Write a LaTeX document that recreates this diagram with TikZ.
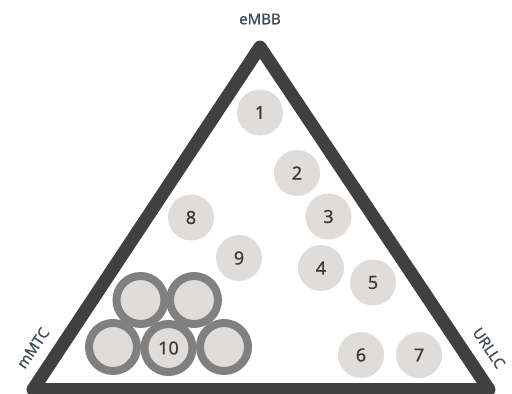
\documentclass[tikz,border=0pt]{standalone}
\usepackage{fontspec}
\setmainfont{Noto Sans}[FakeBold=0.6]

\definecolor{edgegray}{HTML}{404040}
\definecolor{ballfill}{HTML}{DFDCDA}
\definecolor{ringgray}{HTML}{808080}
\definecolor{numgray}{HTML}{3A3A3A}
\definecolor{labelblue}{HTML}{3C4D58}

\tikzset{
    ball/.style={circle, fill=ballfill, minimum size=46pt, inner sep=0pt,
        text=numgray, font=\fontsize{18}{20}\selectfont},
    ringball/.style={ball, draw=ringgray, line width=8pt, minimum size=48pt},
    corner/.style={text=labelblue, inner sep=1pt, font=\fontsize{15}{18}\selectfont}
}

\begin{document}
\begin{tikzpicture}[x=1pt, y=-1pt]
    \useasboundingbox (0, 0) rectangle (512, 394);

    % Triangle
    \coordinate (top) at (260, 47);
    \coordinate (left) at (33, 389.5);
    \coordinate (right) at (489, 389.5);
    \draw[edgegray, line width=13pt, line join=round] (top) -- (left) -- (right) -- cycle;

    % Corner labels
    \node[corner] (embb) at (260, 19) {eMBB};
    \node[corner, rotate=56] (mmtc) at (33, 348) {mMTC};
    \node[corner, rotate=-56] (urllc) at (489, 348) {URLLC};

    % Single services 1 - 9
    \foreach \n/\x/\y in {1/260/112.5, 2/297/173, 3/328.5/216.5, 4/321/268,
        5/373/282.5, 6/361/355, 7/419/355, 8/191/217.5, 9/239/258}
    {\node[ball] (s\n) at (\x, \y) {\n};}

    % Cluster 10
    \node[ringball] (m1) at (140.5, 300) {};
    \node[ringball] (m2) at (194, 300) {};
    \node[ringball] (m3) at (113, 347) {};
    \node[ringball] (m4) at (224, 347) {};
    \node[ringball] (m5) at (168.5, 348) {10};
\end{tikzpicture}
\end{document}
